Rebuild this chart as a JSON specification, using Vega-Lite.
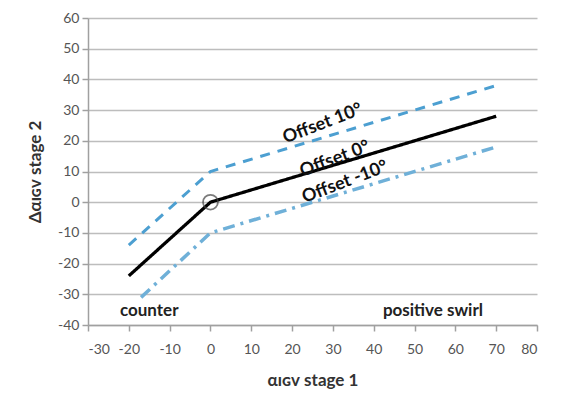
{
  "$schema": "https://vega.github.io/schema/vega-lite/v6.json",
  "width": 449,
  "height": 307,
  "autosize": "none",
  "padding": {"left": 88, "top": 18, "right": 47, "bottom": 85},
  "background": "white",
  "config": {
    "view": {"stroke": null},
    "font": "Lato",
    "axis": {
      "labelFont": "Lato",
      "labelFontSize": 14,
      "labelColor": "#555555",
      "labelOverlap": false,
      "labelExpr": "datum.value < 0 ? '-' + abs(datum.value) : '' + datum.value",
      "titleFont": "Lato",
      "titleFontSize": 17,
      "titleFontWeight": "bold",
      "titleColor": "#333333",
      "domainColor": "#a0a0a0",
      "domainWidth": 1.5,
      "tickColor": "#a0a0a0",
      "tickWidth": 1.5,
      "tickSize": 6,
      "gridColor": "#bdbdbd",
      "gridWidth": 1.6
    }
  },
  "datasets": {
    "lines": [
      {"series": "Offset 10", "x": -20, "y": -14},
      {"series": "Offset 10", "x": 0, "y": 10},
      {"series": "Offset 10", "x": 70, "y": 38},
      {"series": "Offset 0", "x": -20, "y": -24},
      {"series": "Offset 0", "x": 0, "y": 0},
      {"series": "Offset 0", "x": 70, "y": 28},
      {"series": "Offset -10", "x": -17, "y": -31},
      {"series": "Offset -10", "x": 0, "y": -10},
      {"series": "Offset -10", "x": 70, "y": 18}
    ],
    "labels": [
      {"text": "Offset  10°", "x": 27.5, "y": 25.5},
      {"text": "Offset    0°", "x": 30.5, "y": 14},
      {"text": "Offset -10°", "x": 33, "y": 6.5}
    ],
    "notes": [
      {"text": "counter", "x": -15, "y": -35.3},
      {"text": "positive swirl", "x": 54.5, "y": -35.3}
    ],
    "origin": [{"x": 0, "y": 0}]
  },
  "encoding": {
    "x": {
      "field": "x", "type": "quantitative",
      "scale": {"domain": [-30, 80], "nice": false},
      "axis": {
        "values": [-30, -20, -10, 0, 10, 20, 30, 40, 50, 60, 70, 80],
        "grid": false,
        "labelPadding": 11,
        "title": "αɪɢᴠ stage 1",
        "titlePadding": 16
      }
    },
    "y": {
      "field": "y", "type": "quantitative",
      "scale": {"domain": [-40, 60], "nice": false},
      "axis": {
        "values": [-40, -30, -20, -10, 0, 10, 20, 30, 40, 50, 60],
        "grid": true,
        "labelPadding": 3,
        "title": "Δαɪɢᴠ stage 2",
        "titlePadding": 13
      }
    }
  },
  "layer": [
    {
      "data": {"name": "lines"},
      "mark": {"type": "line", "strokeCap": "butt"},
      "encoding": {
        "color": {
          "field": "series", "type": "nominal", "legend": null,
          "scale": {
            "domain": ["Offset 10", "Offset 0", "Offset -10"],
            "range": ["#4c9fd1", "#000000", "#6fb0d8"]
          }
        },
        "strokeDash": {
          "field": "series", "type": "nominal", "legend": null,
          "scale": {
            "domain": ["Offset 10", "Offset 0", "Offset -10"],
            "range": [[10, 8], [1, 0], [12, 6, 3, 6]]
          }
        },
        "strokeWidth": {
          "field": "series", "type": "nominal", "legend": null,
          "scale": {
            "domain": ["Offset 10", "Offset 0", "Offset -10"],
            "range": [3, 3.5, 2.5]
          }
        }
      }
    },
    {
      "data": {"name": "origin"},
      "mark": {"type": "point", "shape": "circle", "filled": false, "size": 220, "stroke": "#444444", "strokeWidth": 1.8},
      "encoding": {}
    },
    {
      "data": {"name": "labels"},
      "mark": {"type": "text", "angle": 339, "fontSize": 18, "fontWeight": "bold", "font": "Lato", "color": "#111111"},
      "encoding": {
        "text": {"field": "text"}
      }
    },
    {
      "data": {"name": "notes"},
      "mark": {"type": "text", "fontSize": 17, "fontWeight": "bold", "font": "Lato", "color": "#222222"},
      "encoding": {
        "text": {"field": "text"}
      }
    }
  ]
}
